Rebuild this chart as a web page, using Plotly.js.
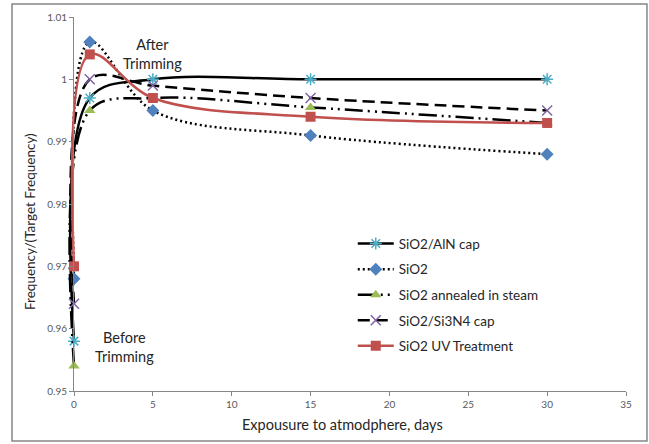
<!DOCTYPE html>
<html>
<head>
<meta charset="utf-8">
<script src="https://cdn.plot.ly/plotly-3.0.1.min.js"></script>
<style>html,body{margin:0;padding:0;background:#fff;}#chart{width:649px;height:444px;}</style>
</head>
<body>
<div id="chart"></div>
<script>
// Data
const days = [0, 1, 5, 15, 30];
const seriesNames = ["SiO2/AlN cap", "SiO2", "SiO2 annealed in steam", "SiO2/Si3N4 cap", "SiO2 UV Treatment"];
const alnCap = [0.958, 0.997, 1.000, 1.000, 1.000];
const sio2 = [0.968, 1.006, 0.995, 0.991, 0.988];
const annealed = [0.954, 0.995, 0.997, 0.9955, 0.993];
const si3n4Cap = [0.964, 1.000, 0.999, 0.997, 0.995];
const uvTreatment = [0.970, 1.004, 0.997, 0.994, 0.993];
const xTicks = [0, 5, 10, 15, 20, 25, 30, 35];
const yTicks = [0.95, 0.96, 0.97, 0.98, 0.99, 1.00, 1.01];

const FONT = "Lato, 'Liberation Sans', sans-serif";

function mk(name, ys, lineColor, dash, mSymbol, mColor, mLineW, idx) {
  return {
    x: days, y: ys, name: name, type: "scatter", mode: "lines+markers",
    legendgroup: "g" + idx, cliponaxis: false,
    line: {color: lineColor, width: 2.5, dash: dash, shape: "spline", smoothing: 1},
    marker: {symbol: mSymbol, size: 10, color: mColor, line: {color: mColor, width: mLineW}}
  };
}

const traces = [
  mk(seriesNames[0], alnCap, "#000000", "solid", "asterisk-open", "#4bacc6", 1.5, 0),
  mk(seriesNames[1], sio2, "#000000", "2px,3px", "diamond", "#4f81bd", 0, 1),
  mk(seriesNames[2], annealed, "#000000", "18px,5px,2px,5px,2px,5px", "triangle-up", "#9bbb59", 0, 2),
  mk(seriesNames[3], si3n4Cap, "#000000", "12px,6px", "x-thin-open", "#8064a2", 1.5, 3),
  mk(seriesNames[4], uvTreatment, "#c0504d", "solid", "square", "#c0504d", 0, 4)
];

const layout = {
  width: 649, height: 444,
  margin: {l: 74, r: 23, t: 17, b: 53},
  paper_bgcolor: "#ffffff", plot_bgcolor: "#ffffff",
  font: {family: FONT, size: 10, color: "#595959"},
  showlegend: true,
  legend: {
    x: 0.505, y: 0.435, xanchor: "left", yanchor: "top",
    font: {family: FONT, size: 13.5, color: "#262626"},
    traceorder: "grouped", tracegroupgap: 5, itemwidth: 36,
    bgcolor: "rgba(0,0,0,0)"
  },
  xaxis: {
    range: [0, 35], tickvals: xTicks, ticktext: xTicks.map(String),
    showgrid: false, zeroline: false, showline: true, linecolor: "#868686", linewidth: 1,
    ticks: "outside", ticklen: 4, tickcolor: "#868686",
    tickfont: {family: FONT, size: 10, color: "#595959"}
  },
  yaxis: {
    range: [0.95, 1.01], tickvals: yTicks, ticktext: yTicks.map(v => String(+v.toFixed(2))),
    showgrid: false, zeroline: false, showline: true, linecolor: "#868686", linewidth: 1,
    ticks: "outside", ticklen: 4, tickcolor: "#868686",
    tickfont: {family: FONT, size: 10, color: "#595959"}
  },
  annotations: [
    {x: (30 - 74) / 552, y: (391 - 222) / 374, xref: "paper", yref: "paper", text: "Frequency/(Target Frequency)",
     textangle: -90, showarrow: false, xanchor: "center", yanchor: "middle",
     font: {family: FONT, size: 13.5, color: "#262626"}},
    {x: (342 - 74) / 552, y: (391 - 425) / 374, xref: "paper", yref: "paper", text: "Expousure to atmodphere, days",
     showarrow: false, xanchor: "center", yanchor: "middle",
     font: {family: FONT, size: 14.5, color: "#262626"}},
    {x: 5.0, y: 1.0040, xref: "x", yref: "y", text: "After<br>Trimming", showarrow: false,
     font: {family: FONT, size: 14.5, color: "#262626"}, align: "center"},
    {x: 3.17, y: 0.9570, xref: "x", yref: "y", text: "Before<br>Trimming", showarrow: false,
     font: {family: FONT, size: 14.5, color: "#262626"}, align: "center"}
  ],
  shapes: [
    {type: "rect", xref: "paper", yref: "paper", x0: -0.1123, x1: 1.038, y0: -0.1337, y1: 1.0348,
     line: {color: "#868686", width: 1.5}, fillcolor: "rgba(0,0,0,0)", layer: "below"}
  ]
};

Plotly.newPlot("chart", traces, layout, {displayModeBar: false, staticPlot: true}).then(function (gd) {
  // let the smoothed curves run over the axis line like the original instead of being cut off
  gd.querySelectorAll(".cartesianlayer [clip-path]").forEach(function (el) { el.removeAttribute("clip-path"); });
});
</script>
</body>
</html>
